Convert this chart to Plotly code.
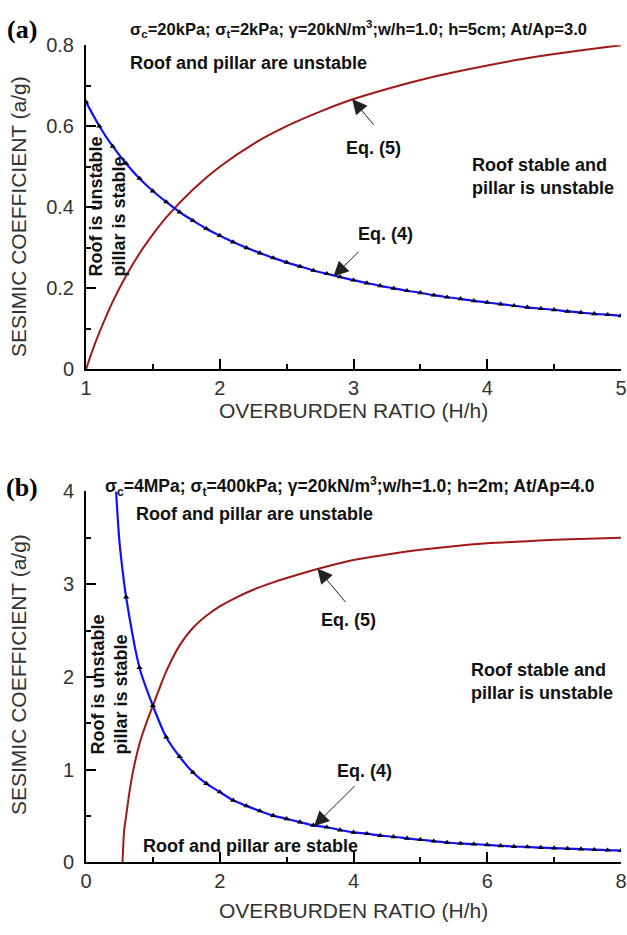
import plotly.graph_objects as go

# ---------------- data ----------------
# Panel (a)
a_eq4_x = [1.0, 1.1, 1.2, 1.3, 1.4, 1.5, 1.6, 1.7, 1.8, 1.9, 2.0, 2.1, 2.2, 2.3, 2.4,
           2.5, 2.6, 2.7, 2.8, 2.9, 3.0, 3.1, 3.2, 3.3, 3.4, 3.5, 3.6, 3.7, 3.8, 3.9,
           4.0, 4.1, 4.2, 4.3, 4.4, 4.5, 4.6, 4.7, 4.8, 4.9, 5.0]
a_eq4_y = [0.660, 0.600, 0.550, 0.508, 0.471, 0.440, 0.413, 0.388, 0.367, 0.347, 0.330,
           0.314, 0.300, 0.287, 0.275, 0.264, 0.254, 0.244, 0.236, 0.228, 0.220, 0.213,
           0.206, 0.200, 0.194, 0.189, 0.183, 0.178, 0.174, 0.169, 0.165, 0.161, 0.157,
           0.153, 0.150, 0.147, 0.143, 0.140, 0.137, 0.135, 0.132]
a_eq5_x = [1.0, 1.05, 1.1, 1.2, 1.3, 1.4, 1.5, 1.6, 1.8, 2.0, 2.25, 2.5, 2.75, 3.0,
           3.25, 3.5, 3.75, 4.0, 4.25, 4.5, 4.75, 5.0]
a_eq5_y = [0.0, 0.048, 0.091, 0.167, 0.231, 0.286, 0.333, 0.375, 0.444, 0.500, 0.556,
           0.600, 0.636, 0.667, 0.692, 0.714, 0.733, 0.750, 0.765, 0.778, 0.789, 0.800]

# Panel (b)
b_eq4_x = [0.45, 0.5, 0.55, 0.6, 0.8, 1.0, 1.2, 1.4, 1.6, 1.8, 2.0, 2.2, 2.4, 2.6, 2.8,
           3.0, 3.2, 3.4, 3.6, 3.8, 4.0, 4.2, 4.4, 4.6, 4.8, 5.0, 5.2, 5.4, 5.6, 5.8,
           6.0, 6.2, 6.4, 6.6, 6.8, 7.0, 7.2, 7.4, 7.6, 7.8, 8.0]
b_eq4_y = [4.00, 3.46, 3.13, 2.86, 2.10, 1.69, 1.35, 1.14, 0.97, 0.85, 0.76, 0.67, 0.61,
           0.555, 0.505, 0.47, 0.435, 0.40, 0.38, 0.35, 0.325, 0.31, 0.29, 0.277, 0.26,
           0.245, 0.23, 0.215, 0.205, 0.197, 0.19, 0.18, 0.172, 0.167, 0.16, 0.155,
           0.15, 0.144, 0.138, 0.133, 0.127]
b_marker_start = 3  # markers are drawn from x = 0.6 onwards
b_eq5_x = [0.545, 0.555, 0.57, 0.6, 0.65, 0.7, 0.8, 0.9, 1.0, 1.1, 1.2, 1.4, 1.6, 1.8,
           2.0, 2.2, 2.5, 2.8, 3.2, 3.6, 4.0, 4.5, 5.0, 5.5, 6.0, 6.5, 7.0, 7.5, 8.0]
b_eq5_y = [0.0, 0.15, 0.34, 0.50, 0.76, 0.97, 1.28, 1.50, 1.69, 1.88, 2.06, 2.34, 2.53,
           2.66, 2.76, 2.84, 2.94, 3.02, 3.11, 3.19, 3.26, 3.32, 3.37, 3.41, 3.44, 3.46,
           3.48, 3.49, 3.50]

a_title = ("<b>σ<sub>c</sub>=20kPa; σ<sub>t</sub>=2kPa; γ=20kN/m<sup>3</sup>;"
           "w/h=1.0; h=5cm; At/Ap=3.0</b>")
b_title = ("<b>σ<sub>c</sub>=4MPa; σ<sub>t</sub>=400kPa; γ=20kN/m<sup>3</sup>;"
           "w/h=1.0; h=2m; At/Ap=4.0</b>")
x_title = "OVERBURDEN RATIO (H/h)"
y_title = "SESIMIC COEFFICIENT (a/g)"

# ---------------- styles ----------------
BLUE = "#1010ff"
RED = "#a01818"
SANS = "Liberation Sans, Arial, sans-serif"
SERIF = "Liberation Serif, Times New Roman, serif"

fig = go.Figure()

# panel (a)
fig.add_trace(go.Scatter(x=a_eq5_x, y=a_eq5_y, mode="lines",
                         line=dict(color=RED, width=2, shape="spline"),
                         xaxis="x", yaxis="y", showlegend=False))
fig.add_trace(go.Scatter(x=a_eq4_x, y=a_eq4_y, mode="lines+markers",
                         line=dict(color=BLUE, width=2.2, shape="spline"),
                         marker=dict(symbol="triangle-up", size=5.5, color="black"),
                         xaxis="x", yaxis="y", showlegend=False))
# panel (b)
fig.add_trace(go.Scatter(x=b_eq5_x, y=b_eq5_y, mode="lines",
                         line=dict(color=RED, width=2, shape="spline", smoothing=0.8),
                         xaxis="x2", yaxis="y2", showlegend=False))
fig.add_trace(go.Scatter(x=b_eq4_x, y=b_eq4_y, mode="lines",
                         line=dict(color=BLUE, width=2.2, shape="spline", smoothing=0.8),
                         xaxis="x2", yaxis="y2", showlegend=False))
fig.add_trace(go.Scatter(x=b_eq4_x[b_marker_start:], y=b_eq4_y[b_marker_start:],
                         mode="markers",
                         marker=dict(symbol="triangle-up", size=5.5, color="black"),
                         xaxis="x2", yaxis="y2", showlegend=False))

axis_common = dict(showline=True, linecolor="black", linewidth=2, ticks="inside",
                   ticklen=10, tickwidth=1.5, tickcolor="black", showgrid=False,
                   zeroline=False, mirror=False,
                   tickfont=dict(family=SANS, size=20, color="#333333"))
x_extra = dict(ticklabelstandoff=0)
y_extra = dict(ticklabelstandoff=6)

fig.update_layout(
    width=627, height=935,
    margin=dict(l=86, r=6, t=0, b=0),
    paper_bgcolor="white", plot_bgcolor="white",
    xaxis=dict(domain=[0, 1], anchor="y", range=[1, 5], dtick=1, tick0=1,
               minor=dict(ticks="inside", ticklen=5, dtick=0.5, tickcolor="black"),
               **axis_common, **x_extra),
    yaxis=dict(domain=[0.6075, 0.9626], anchor="x", range=[0, 0.8], dtick=0.2, tick0=0,
               minor=dict(ticks="inside", ticklen=5, dtick=0.1, tickcolor="black"),
               **axis_common, **y_extra),
    xaxis2=dict(domain=[0, 1], anchor="y2", range=[0, 8], dtick=2, tick0=0,
                minor=dict(ticks="inside", ticklen=5, dtick=1, tickcolor="black"),
                **axis_common, **x_extra),
    yaxis2=dict(domain=[0.0674, 0.4738], anchor="x2", range=[0, 4], dtick=1, tick0=0,
                minor=dict(ticks="inside", ticklen=5, dtick=0.5, tickcolor="black"),
                **axis_common, **y_extra),
)

bold_font = dict(family=SANS, size=18, color="#111111")
ann = []


def txt(x, y, text, xref, yref, xanchor="left", yanchor="middle", font=None,
        angle=0, align="left"):
    ann.append(dict(x=x, y=y, xref=xref, yref=yref, text=text, showarrow=False,
                    xanchor=xanchor, yanchor=yanchor, font=font or bold_font,
                    textangle=angle, align=align))


def arrow(x, y, ax, ay, xref, yref):
    ann.append(dict(x=x, y=y, ax=ax, ay=ay, xref=xref, yref=yref, axref=xref,
                    ayref=yref, text="", showarrow=True, arrowhead=2, arrowsize=3,
                    arrowwidth=1, arrowcolor="#222222", standoff=0))


# ---- panel (a) texts
txt(-0.12, 0.980, "<b>(a)</b>", "paper", "paper", xanchor="center",
    font=dict(family=SERIF, size=26, color="black"))
txt(0.0785, 0.980, a_title, "paper", "paper",
    font=dict(family=SANS, size=16.5, color="#111111"))
txt(1.314, 0.757, "<b>Roof and pillar are unstable</b>", "x", "y")
txt(3.87, 0.475, "<b>Roof stable and<br>pillar is unstable</b>", "x", "y")
txt(1.157, 0.402, "<b>Roof is unstable<br>pillar is stable</b>", "x", "y",
    xanchor="center", angle=-90)
txt(3.15, 0.547, "<b>Eq. (5)</b>", "x", "y", xanchor="center")
txt(3.24, 0.333, "<b>Eq. (4)</b>", "x", "y", xanchor="center")
arrow(2.99, 0.667, 3.16, 0.60, "x", "y")
arrow(2.85, 0.229, 3.05, 0.294, "x", "y")

# ---- panel (b) texts
txt(-0.12, 0.478, "<b>(b)</b>", "paper", "paper", xanchor="center",
    font=dict(family=SERIF, size=26, color="black"))
txt(0.0318, 0.479, b_title, "paper", "paper",
    font=dict(family=SANS, size=17.5, color="#111111"))
txt(0.72, 3.76, "<b>Roof and pillar are unstable</b>", "x2", "y2")
txt(5.73, 1.95, "<b>Roof stable and<br>pillar is unstable</b>", "x2", "y2")
txt(0.345, 1.92, "<b>Roof is unstable<br>pillar is stable</b>", "x2", "y2",
    xanchor="center", angle=-90)
txt(0.82, 0.18, "<b>Roof and pillar are stable</b>", "x2", "y2")
txt(3.93, 2.61, "<b>Eq. (5)</b>", "x2", "y2", xanchor="center")
txt(4.17, 0.99, "<b>Eq. (4)</b>", "x2", "y2", xanchor="center")
arrow(3.46, 3.17, 3.90, 2.79, "x2", "y2")
arrow(3.41, 0.39, 4.04, 0.84, "x2", "y2")

# ---- axis titles (placed as annotations for exact positioning)
title_font = dict(family=SANS, size=21, color="#333333")
for (xc, yc) in [(0.5, 1 - 409 / 935), (0.5, 1 - 921 / 935)]:
    txt(xc, yc, x_title, "paper", "paper", xanchor="center", font=title_font)
for yc in [1 - 211 / 935, 1 - 680 / 935]:
    txt(-68 / 535, yc, y_title, "paper", "paper", xanchor="center", font=title_font,
        angle=-90)

fig.update_layout(annotations=ann)
fig.write_html("out.html")
